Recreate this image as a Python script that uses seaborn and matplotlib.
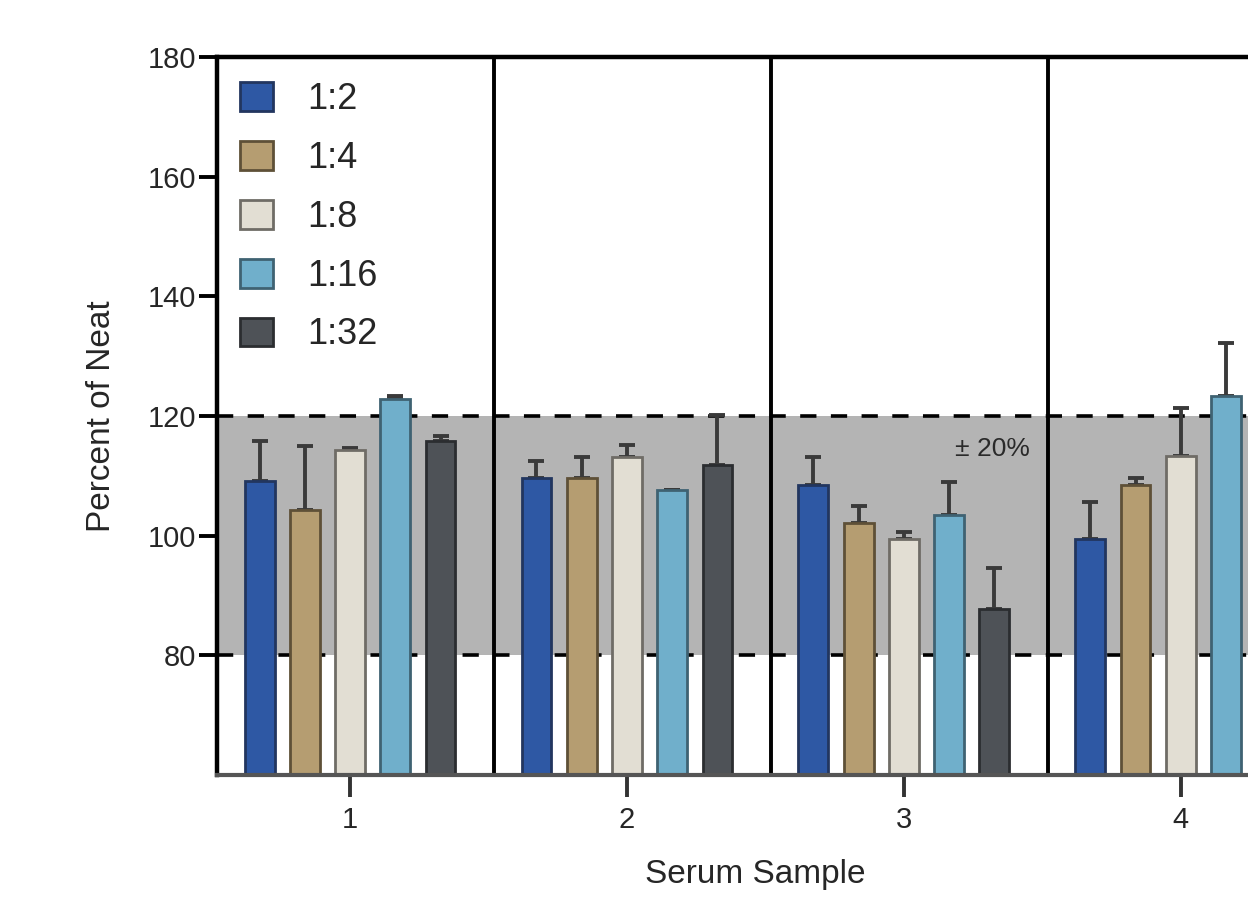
import matplotlib
matplotlib.use("Agg")
import matplotlib.pyplot as plt
import seaborn as sns
import pandas as pd
import numpy as np

samples = ["1", "2", "3", "4"]
dilutions = ["1:2", "1:4", "1:8", "1:16", "1:32"]

# percent of neat, one list per dilution (sample 1..4); sample 4 at 1:32 is off the edge
pct_1_2 = [109.1, 109.6, 108.5, 99.5]
pct_1_4 = [104.3, 109.6, 102.1, 108.5]
pct_1_8 = [114.4, 113.1, 99.5, 113.3]
pct_1_16 = [122.8, 107.6, 103.5, 123.4]
pct_1_32 = [115.9, 111.8, 87.8, np.nan]

# upper error (SD)
err_1_2 = [6.7, 2.8, 4.6, 6.1]
err_1_4 = [10.7, 3.5, 2.9, 1.1]
err_1_8 = [0.3, 2.0, 1.1, 8.0]
err_1_16 = [0.6, 0.0, 5.5, 8.8]
err_1_32 = [0.7, 8.3, 6.8, np.nan]

colors = ["#2E58A4", "#B59D71", "#E2DED3", "#70AFCB", "#4E5257"]
edges = ["#22365f", "#5e5037", "#6f6c66", "#3f6272", "#2b2d30"]

rows = []
for d, vals, errs in zip(dilutions,
                         [pct_1_2, pct_1_4, pct_1_8, pct_1_16, pct_1_32],
                         [err_1_2, err_1_4, err_1_8, err_1_16, err_1_32]):
    for s, v, e in zip(samples, vals, errs):
        rows.append({"sample": s, "dilution": d, "pct": v, "err": e})
df = pd.DataFrame(rows).dropna()

sns.set_theme(style="white")
plt.rcParams["font.family"] = ["Liberation Sans", "DejaVu Sans"]

fig = plt.figure(figsize=(12.48, 9.02), dpi=100)
# the axes run past the right edge of the figure (the original is cropped)
ax = fig.add_axes([0.174, 0.1408, 0.862, 0.796])

ax.axhspan(80, 120, color="#B4B4B4", zorder=0, lw=0)
ax.axhline(80, color="black", ls=(0, (4.5, 4)), lw=2.6, zorder=0.5)
ax.axhline(120, color="black", ls=(0, (4.5, 4)), lw=2.6, zorder=0.5)
for i in range(len(samples) - 1):
    ax.axvline(i + 0.52, color="black", lw=2.8, zorder=0.6)

sns.barplot(data=df, x="sample", y="pct", hue="dilution", order=samples,
            hue_order=dilutions, palette=colors, saturation=1, width=0.817,
            gap=0.34, errorbar=None, ax=ax, zorder=2, linewidth=2)

for cont, d, ec in zip(ax.containers, dilutions, edges):
    sub = df[df["dilution"] == d]
    xs, ys = [], []
    for patch in cont.patches:
        patch.set_edgecolor(ec)
        xs.append(patch.get_x() + patch.get_width() / 2)
        ys.append(patch.get_height())
    errs = sub["err"].values[:len(xs)]
    ax.errorbar(xs, ys, yerr=[np.zeros(len(xs)), errs], fmt="none",
                ecolor="#3a3a3a", elinewidth=2.8, capsize=6, capthick=2.8,
                zorder=1.5)

ax.text(2.455, 114.5, "± 20%", ha="right", va="center", fontsize=19,
        color="#2a2a2a")

ax.set_ylim(60, 180)
ax.set_xlim(-0.48, 3.405)
ax.set_yticks([80, 100, 120, 140, 160, 180])
ax.tick_params(axis="y", direction="out", length=13, width=2.8,
               color="black", labelsize=21, pad=2, left=True)
ax.tick_params(axis="x", direction="out", length=16, width=2.8,
               color="#333333", labelsize=21, pad=6, bottom=True)
ax.set_xlabel("Serum Sample", fontsize=24, labelpad=18)
ax.set_ylabel("Percent of Neat", fontsize=24, labelpad=22)

for side in ["left", "top"]:
    ax.spines[side].set_color("black")
    ax.spines[side].set_linewidth(3.2)
ax.spines["bottom"].set_color("#555555")
ax.spines["bottom"].set_linewidth(3)
ax.spines["right"].set_visible(False)

leg = ax.legend(loc="upper left", bbox_to_anchor=(0.021, 0.965), frameon=False,
                fontsize=26, handlelength=0.92, handleheight=0.85,
                labelspacing=0.66, handletextpad=0.95, borderaxespad=0,
                borderpad=0)
for h, ec in zip(leg.legend_handles, edges):
    h.set_edgecolor(ec)

fig.savefig("out.png", dpi=100)
